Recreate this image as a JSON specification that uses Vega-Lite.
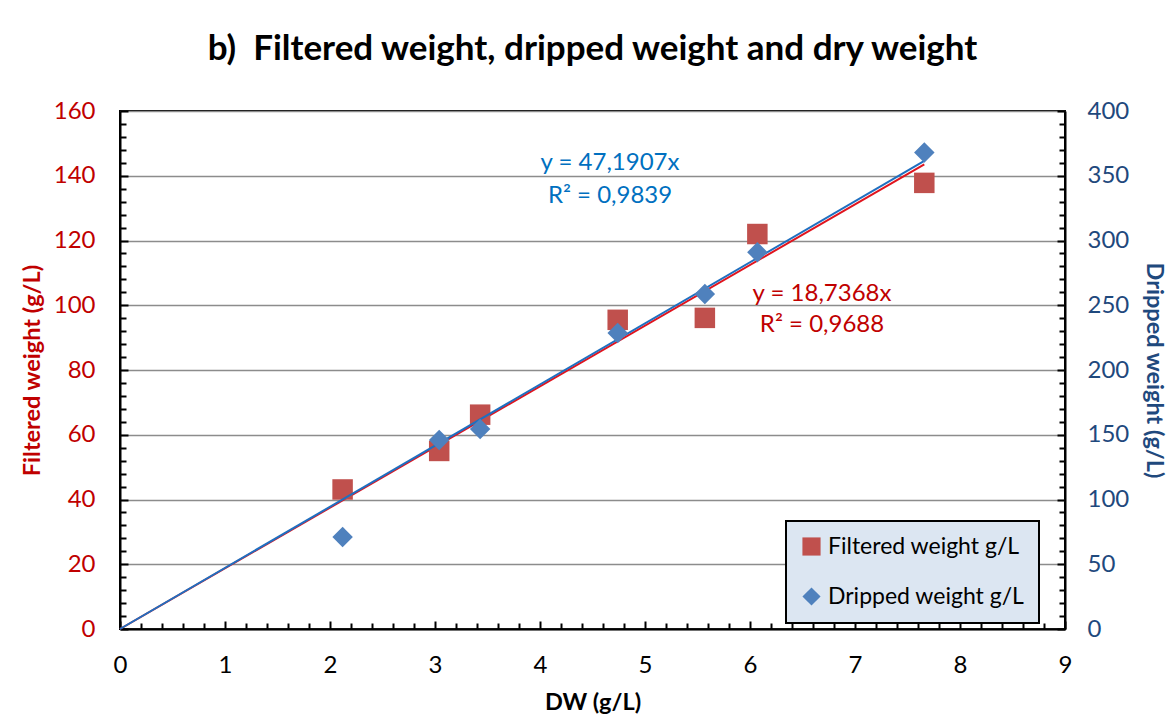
{
  "$schema": "https://vega.github.io/schema/vega-lite/v6.json",
  "autosize": "none",
  "width": 945,
  "height": 518,
  "padding": {"left": 120, "top": 111, "right": 104, "bottom": 89},
  "background": "white",
  "title": {
    "text": "b)\u00a0\u00a0Filtered weight, dripped weight and dry weight",
    "font": "Lato",
    "fontSize": 35,
    "fontWeight": "bold",
    "color": "black",
    "anchor": "middle",
    "frame": "group",
    "baseline": "alphabetic",
    "offset": 4
  },
  "datasets": {
    "pts": [
      {"dw": 2.12, "fw": 43.1, "dr": 71},
      {"dw": 3.04, "fw": 55.0, "dr": 146},
      {"dw": 3.43, "fw": 66.2, "dr": 154.5},
      {"dw": 4.74, "fw": 95.5, "dr": 228.5},
      {"dw": 5.57, "fw": 96.1, "dr": 258.7},
      {"dw": 6.07, "fw": 122.0, "dr": 291},
      {"dw": 7.66, "fw": 137.8, "dr": 368}
    ],
    "trend": [
      {"dw": 0, "fw": 0, "dr": 0},
      {"dw": 7.66, "fw": 143.52, "dr": 361.48}
    ],
    "notesRed": [
      {"dw": 6.686, "fw": 103.5, "t": "y = 18,7368x"},
      {"dw": 6.686, "fw": 93.9, "t": "R² = 0,9688"}
    ],
    "notesBlue": [
      {"dw": 4.667, "dr": 359.8, "t": "y = 47,1907x"},
      {"dw": 4.667, "dr": 334.4, "t": "R² = 0,9839"}
    ]
  },
  "config": {
    "font": "Lato",
    "view": {"stroke": "black", "strokeWidth": 2},
    "axis": {
      "domainColor": "black",
      "domainWidth": 2,
      "tickColor": "black",
      "tickWidth": 2,
      "labelFont": "Lato",
      "labelFontSize": 24,
      "labelFlush": false,
      "labelOverlap": false,
      "titleFont": "Lato",
      "titleFontSize": 23.5,
      "titleFontWeight": "bold"
    },
    "legend": {
      "strokeColor": "black",
      "strokeWidth": 2
    }
  },
  "encoding": {
    "x": {
      "field": "dw",
      "type": "quantitative",
      "scale": {"domain": [0, 9], "nice": false, "zero": false},
      "axis": {
        "title": "DW (g/L)",
        "titleColor": "black",
        "titlePadding": 11,
        "labelColor": "black",
        "labelPadding": 32,
        "labelFlush": false,
        "grid": false,
        "values": [0,0.2,0.4,0.6,0.8,1,1.2,1.4,1.6,1.8,2,2.2,2.4,2.6,2.8,3,3.2,3.4,3.6,3.8,4,4.2,4.4,4.6,4.8,5,5.2,5.4,5.6,5.8,6,6.2,6.4,6.6,6.8,7,7.2,7.4,7.6,7.8,8,8.2,8.4,8.6,8.8,9],
        "labelExpr": "datum.value % 1 === 0 ? format(datum.value, 'd') : ''",
        "tickSize": {"condition": {"test": "datum.value % 1 === 0", "value": -8}, "value": -6}
      }
    }
  },
  "layer": [
    {
      "encoding": {
        "y": {
          "field": "fw",
          "type": "quantitative",
          "scale": {"domain": [0, 160], "nice": false, "zero": false},
          "axis": {
            "orient": "left",
            "title": "Filtered weight (g/L)",
            "titleColor": "#C00000",
            "titlePadding": 9,
            "labelColor": "#C00000",
            "labelPadding": 33,
            "values": [0,4,8,12,16,20,24,28,32,36,40,44,48,52,56,60,64,68,72,76,80,84,88,92,96,100,104,108,112,116,120,124,128,132,136,140,144,148,152,156,160],
            "labelExpr": "datum.value % 20 === 0 ? datum.label : ''",
            "tickSize": {"condition": {"test": "datum.value % 20 === 0", "value": -8}, "value": -6},
            "grid": true,
            "gridColor": "#8C8C8C",
            "gridWidth": 1.5,
            "gridOpacity": {"condition": {"test": "datum.value % 20 === 0", "value": 1}, "value": 0}
          }
        }
      },
      "layer": [
        {
          "data": {"name": "trend"},
          "mark": {"type": "line", "color": "#E0141E", "strokeWidth": 2}
        },
        {
          "data": {"name": "pts"},
          "mark": {"type": "point", "filled": true, "opacity": 1, "size": 420},
          "encoding": {
            "color": {
              "datum": "Filtered weight g/L",
              "scale": {"domain": ["Filtered weight g/L", "Dripped weight g/L"], "range": ["#C0504D", "#4F81BD"]},
              "legend": {
                "orient": "none",
                "legendX": 666,
                "legendY": 410,
                "title": null,
                "fillColor": "#DCE6F2",
                "padding": 14,
                "labelFont": "Lato",
                "labelFontSize": 23,
                "labelColor": "black",
                "labelLimit": 0,
                "symbolSize": 330,
                "rowPadding": 26,
                "labelOffset": 5
              }
            },
            "shape": {
              "datum": "Filtered weight g/L",
              "scale": {"domain": ["Filtered weight g/L", "Dripped weight g/L"], "range": ["square", "diamond"]}
            }
          }
        },
        {
          "data": {"name": "notesRed"},
          "mark": {"type": "text", "color": "#C00000", "fontSize": 24, "font": "Lato", "align": "center", "baseline": "middle"},
          "encoding": {"text": {"field": "t"}}
        }
      ]
    },
    {
      "encoding": {
        "y": {
          "field": "dr",
          "type": "quantitative",
          "scale": {"domain": [0, 400], "nice": false, "zero": false},
          "axis": {
            "orient": "right",
            "title": "Dripped weight (g/L)",
            "titleColor": "#1F497D",
            "titlePadding": 13,
            "labelColor": "#1F497D",
            "labelPadding": 30,
            "grid": false,
            "values": [0,10,20,30,40,50,60,70,80,90,100,110,120,130,140,150,160,170,180,190,200,210,220,230,240,250,260,270,280,290,300,310,320,330,340,350,360,370,380,390,400],
            "labelExpr": "datum.value % 50 === 0 ? datum.label : ''",
            "tickSize": {"condition": {"test": "datum.value % 50 === 0", "value": -8}, "value": -6}
          }
        }
      },
      "layer": [
        {
          "data": {"name": "trend"},
          "mark": {"type": "line", "color": "#1F6FC0", "strokeWidth": 2}
        },
        {
          "data": {"name": "pts"},
          "mark": {"type": "point", "filled": true, "opacity": 1, "size": 420},
          "encoding": {
            "color": {"datum": "Dripped weight g/L"},
            "shape": {"datum": "Dripped weight g/L"}
          }
        },
        {
          "data": {"name": "notesBlue"},
          "mark": {"type": "text", "color": "#0070C0", "fontSize": 24, "font": "Lato", "align": "center", "baseline": "middle"},
          "encoding": {"text": {"field": "t"}}
        }
      ]
    }
  ],
  "resolve": {"scale": {"y": "independent"}}
}
